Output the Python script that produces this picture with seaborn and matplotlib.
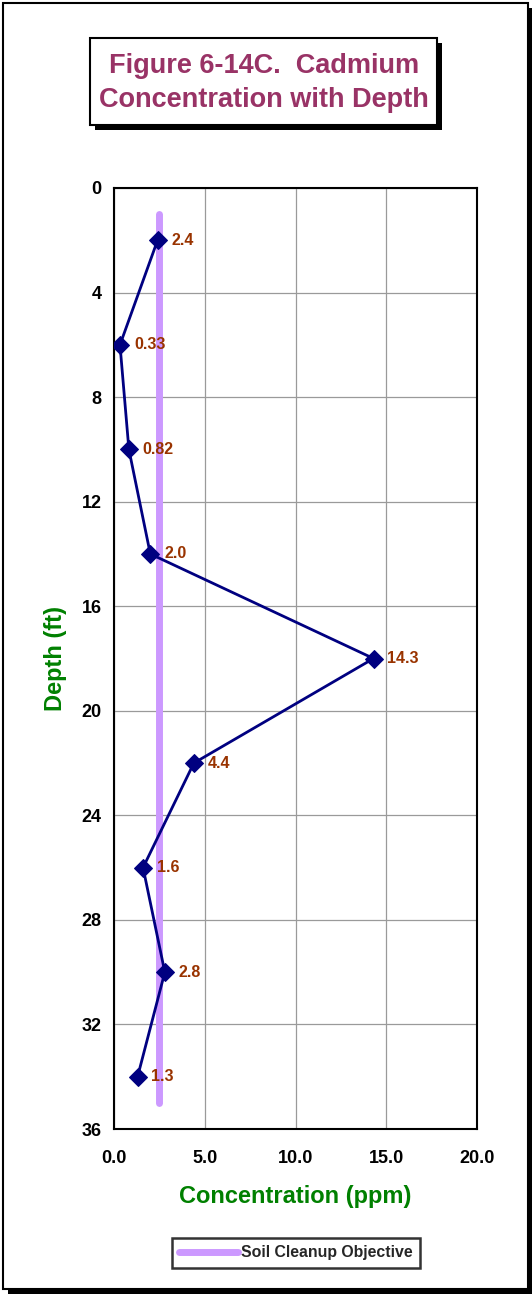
import matplotlib
matplotlib.use("Agg")
import matplotlib.pyplot as plt
from matplotlib.patches import Rectangle
import seaborn as sns
import pandas as pd

# Sample depths (ft) and cadmium concentrations (ppm)
depth_ft = [2, 6, 10, 14, 18, 22, 26, 30, 34]
cadmium_ppm = [2.4, 0.33, 0.82, 2.0, 14.3, 4.4, 1.6, 2.8, 1.3]
value_labels = ["2.4", "0.33", "0.82", "2.0", "14.3", "4.4", "1.6", "2.8", "1.3"]

# Soil cleanup objective drawn as a vertical reference line
objective_ppm = [2.5, 2.5]
objective_depth = [1, 35]

x_ticks = [0, 5, 10, 15, 20]
x_tick_labels = ["0.0", "5.0", "10.0", "15.0", "20.0"]
y_ticks = [0, 4, 8, 12, 16, 20, 24, 28, 32, 36]

sns.set_theme(style="white")
plt.rcParams["font.family"] = ["Liberation Sans", "DejaVu Sans"]

W, H = 532, 1294
fig = plt.figure(figsize=(W / 100, H / 100), dpi=100)
fig.patch.set_facecolor("white")

def px_rect(x0, y0, x1, y1, **kw):
    # rectangle in figure pixel coordinates (origin top-left)
    return Rectangle((x0 / W, 1 - y1 / H), (x1 - x0) / W, (y1 - y0) / H,
                     transform=fig.transFigure, **kw)

# outer frame with drop shadow
fig.patches.append(px_rect(8, 8, 532, 1294, facecolor="black", edgecolor="none", zorder=0))
fig.patches.append(px_rect(3, 3, 528, 1289, facecolor="white", edgecolor="black", linewidth=1.5, zorder=1))

# title box with drop shadow
fig.patches.append(px_rect(95, 43, 442, 130, facecolor="black", edgecolor="none", zorder=2))
fig.patches.append(px_rect(90, 38, 437, 125, facecolor="white", edgecolor="black", linewidth=1.5, zorder=3))
fig.text(264 / W, 1 - 83 / H, "Figure 6-14C.  Cadmium\nConcentration with Depth",
         ha="center", va="center", fontsize=19.5, fontweight="bold",
         color="#993366", linespacing=1.42, zorder=4)

ax = fig.add_axes([114 / W, 1 - 1129 / H, (477 - 114) / W, (1129 - 188) / H])
ax.set_zorder(5)

df = pd.DataFrame({"Concentration": cadmium_ppm, "Depth": depth_ft})
obj = pd.DataFrame({"Concentration": objective_ppm, "Depth": objective_depth})

sns.lineplot(data=obj, x="Concentration", y="Depth", sort=False, estimator=None,
             ax=ax, color="#CC99FF", linewidth=5, label="Soil Cleanup Objective",
             solid_capstyle="round", zorder=3)
sns.lineplot(data=df, x="Concentration", y="Depth", sort=False, estimator=None,
             ax=ax, color="#000080", linewidth=2, marker="D", markersize=9,
             markeredgecolor="#000080", markerfacecolor="#000080", zorder=4)

for xv, yv, lab in zip(cadmium_ppm, depth_ft, value_labels):
    ax.annotate(lab, (xv, yv), xytext=(10, 0), textcoords="offset points",
                ha="left", va="center", fontsize=11.5, fontweight="bold",
                color="#993300", zorder=6)

ax.set_xlim(0, 20)
ax.set_ylim(36, 0)
ax.set_xticks(x_ticks)
ax.set_xticklabels(x_tick_labels)
ax.set_yticks(y_ticks)
ax.grid(True, color="#9a9a9a", linewidth=0.9)
ax.set_axisbelow(True)
for s in ax.spines.values():
    s.set_color("black")
    s.set_linewidth(1.5)
ax.tick_params(axis="both", which="major", direction="out", length=5, width=1,
               color="black", labelsize=13, pad=4)
for t in ax.get_xticklabels() + ax.get_yticklabels():
    t.set_fontweight("bold")
    t.set_color("black")
ax.tick_params(axis="x", pad=10)

ax.set_xlabel("Concentration (ppm)", fontsize=17, fontweight="bold", color="#008000", labelpad=13)
ax.set_ylabel("Depth (ft)", fontsize=17, fontweight="bold", color="#008000", labelpad=10)

# legend placed in its own box below the chart
handles, labels = ax.get_legend_handles_labels()
ax.get_legend().remove()
leg = fig.legend(handles[:1], labels[:1], loc="center",
                 bbox_to_anchor=(296 / W, 1 - 1253 / H), frameon=True, fancybox=False,
                 prop={"weight": "bold", "size": 11.4}, handlelength=3.7, handletextpad=0.2,
                 borderpad=0.45)
leg.get_frame().set_edgecolor("black")
leg.get_frame().set_linewidth(1.8)

fig.savefig("out.png", dpi=100, facecolor="white")
